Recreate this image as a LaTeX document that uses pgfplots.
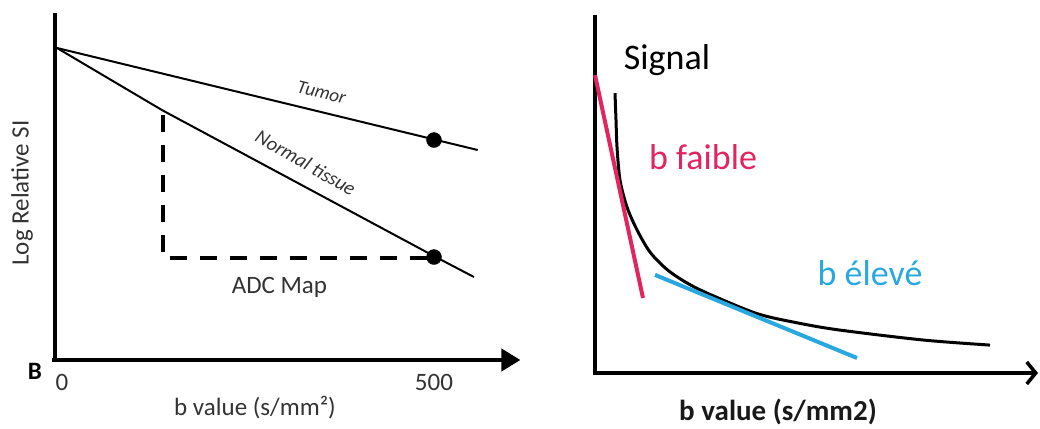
\documentclass[border=0pt]{standalone}
\usepackage{pgfplots}
\pgfplotsset{compat=1.18}
\usepackage{fontspec}
\setmainfont{Carlito}
\usetikzlibrary{arrows.meta}
\definecolor{txtgray}{HTML}{333333}
\definecolor{bred}{HTML}{E2255F}
\definecolor{bblue}{HTML}{29A8E0}
\newcommand{\fs}[1]{\fontsize{#1}{#1}\selectfont}
\begin{document}
\begin{tikzpicture}[x=1pt,y=1pt]
\useasboundingbox (0,0) rectangle (1040,428);
% ---------------- left panel ----------------
\begin{axis}[at={(0pt,0pt)}, anchor=south west, scale only axis,
  width=530pt, height=428pt,
  xmin=-75.597, xmax=627.32, ymin=-0.21795, ymax=1.15385,
  axis lines=none, clip=false]
% axes
\addplot[black, line width=4pt] coordinates {(-2.65,1.112) (-2.65,-0.0064)};
\addplot[black, line width=4pt, -{Triangle[length=19pt,width=22pt]}] coordinates {(-6.6,0) (614.6,0)};
% tumor
\addplot[black, line width=2pt] coordinates {(0,1) (558,0.673)};
% normal tissue
\addplot[black, line width=2pt] coordinates {(0,1) (140,0.80) (500,0.333) (553,0.266)};
% dashed ADC construction
\addplot[black, line width=3.5pt, dash pattern=on 17pt off 13pt] coordinates {(140.6,0.785) (140.6,0.327) (500,0.327)};
% dots
\addplot[black, only marks, mark=*, mark size=7.5pt] coordinates {(500,0.705) (500,0.330)};
% labels
\node[txtgray, rotate=-13.6, font=\fs{19}\itshape] at (351,0.858) {Tumor};
\node[txtgray, rotate=-30, font=\fs{20}\itshape] at (330,0.632) {Normal tissue};
\node[txtgray, font=\fs{25}] at (295,0.232) {ADC Map};
\node[txtgray, rotate=90, font=\fs{25}] at (-46.4,0.535) {Log Relative SI};
\node[black, font=\fs{25}\bfseries] at (-29.2,-0.035) {B};
\node[txtgray, font=\fs{25}] at (6.6,-0.072) {0};
\node[txtgray, font=\fs{25}] at (500,-0.072) {500};
\node[txtgray, font=\fs{25}] at (262.6,-0.154) {b value (s/mm²)};
\end{axis}
% ---------------- right panel ----------------
\begin{axis}[at={(540pt,0pt)}, anchor=south west, scale only axis,
  width=500pt, height=428pt,
  xmin=-137.5, xmax=1112.5, ymin=-0.18333, ymax=1.24333,
  axis lines=none, clip=false]
\addplot[black, line width=3.5pt] coordinates {(0,1.193) (0,-0.006)};
\addplot[black, line width=3.5pt, -{Straight Barb[length=9pt,width=22pt]}] coordinates {(-5,0) (1107.5,0)};
% signal curve
\addplot[black, line width=3pt, smooth] coordinates {
 (50,0.933) (52.5,0.843) (55,0.753) (62.5,0.643) (80,0.553) (105,0.477)
 (137.5,0.403) (180,0.345) (230,0.300) (287.5,0.262) (405,0.198) (510,0.166)
 (612.5,0.143) (820,0.110) (987.5,0.093)};
% tangents
\addplot[bred, line width=4pt] coordinates {(0,0.993) (120,0.25)};
\addplot[bblue, line width=4pt] coordinates {(150,0.327) (655,0.05)};
% labels
\node[black, font=\fs{36}] at (180,1.043) {Signal};
\node[bred, font=\fs{36}] at (270,0.72) {b faible};
\node[bblue, font=\fs{36}] at (687.5,0.333) {b élevé};
\node[black!90, font=\fs{29}\bfseries] at (457.5,-0.13) {b value (s/mm2)};
\end{axis}
\end{tikzpicture}
\end{document}
